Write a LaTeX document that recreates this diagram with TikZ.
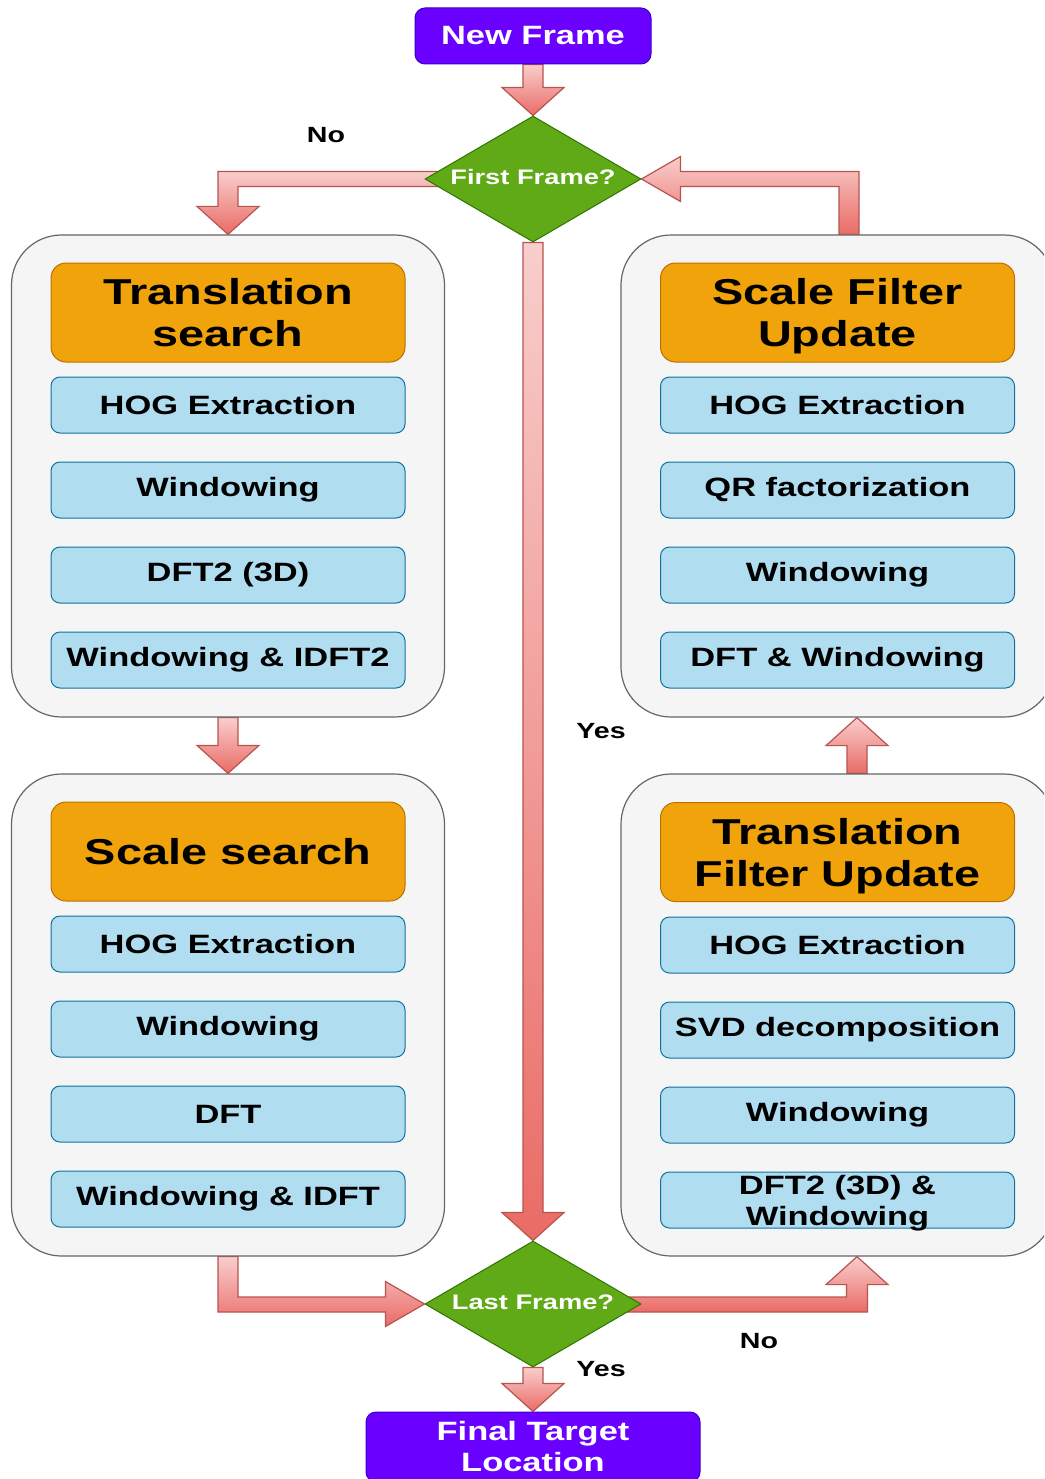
\documentclass[tikz,border=0pt]{standalone}
\usepackage{fontspec}
\setmainfont{Liberation Sans}[FakeStretch=1.3]
\usetikzlibrary{shapes.geometric,calc}
\pgfdeclarelayer{background}
\pgfdeclarelayer{canvas}
\pgfsetlayers{canvas,background,main}

\definecolor{termfill}{HTML}{6A00FF}
\definecolor{termbd}{HTML}{3700CC}
\definecolor{decfill}{HTML}{60A917}
\definecolor{decbd}{HTML}{2D7600}
\definecolor{headfill}{HTML}{F0A30A}
\definecolor{headbd}{HTML}{BD7000}
\definecolor{stepfill}{HTML}{B1DDF0}
\definecolor{stepbd}{HTML}{10739E}
\definecolor{groupfill}{HTML}{F5F5F5}
\definecolor{groupbd}{HTML}{666666}
\definecolor{arrtop}{HTML}{F8CECC}
\definecolor{arrbot}{HTML}{EA6B66}
\definecolor{arrbd}{HTML}{B85450}

% straight block arrows: #1 start point, #2 tip
\newcommand\fatdown[2]{%
  \path[fatarrow] ($(#1)+(-10,0)$) -- ($(#2)+(-10,-28)$) -- ($(#2)+(-31,-28)$)
    -- (#2) -- ($(#2)+(31,-28)$) -- ($(#2)+(10,-28)$) -- ($(#1)+(10,0)$) -- cycle;}
\newcommand\fatup[2]{%
  \path[fatarrow] ($(#1)+(-10,0)$) -- ($(#2)+(-10,28)$) -- ($(#2)+(-31,28)$)
    -- (#2) -- ($(#2)+(31,28)$) -- ($(#2)+(10,28)$) -- ($(#1)+(10,0)$) -- cycle;}

\begin{document}
\begin{tikzpicture}[x=1pt,y=-1pt,
  group/.style={draw=groupbd, fill=groupfill, line width=1.2pt, rounded corners=50pt,
    minimum width=433pt, minimum height=482pt, inner sep=0pt},
  header/.style={draw=headbd, fill=headfill, line width=1pt, rounded corners=15pt,
    minimum width=354pt, minimum height=99pt, inner sep=0pt, align=center,
    font=\bfseries\fontsize{36}{42}\selectfont},
  stepbox/.style={draw=stepbd, fill=stepfill, line width=1pt, rounded corners=9pt,
    minimum width=354pt, minimum height=56pt, inner sep=0pt, align=center,
    font=\bfseries\fontsize{26.5}{31}\selectfont},
  terminal/.style={draw=termbd, fill=termfill, line width=1pt, rounded corners=10pt,
    text=white, inner sep=0pt, align=center,
    font=\bfseries\fontsize{26.5}{31}\selectfont},
  decision/.style={diamond, draw=decbd, fill=decfill, line width=1pt,
    minimum width=216pt, minimum height=126pt, inner sep=0pt},
  dectext/.style={text=white, inner sep=0pt, font=\bfseries\fontsize{21}{24}\selectfont},
  lbl/.style={font=\bfseries\fontsize{22}{24}\selectfont},
  fatarrow/.style={draw=arrbd, line width=1.2pt, top color=arrtop, bottom color=arrbot,
    line join=miter}]

\clip (0,0) rectangle (1044,1479);
\begin{pgfonlayer}{canvas}
  \fill[white] (0,0) rectangle (1044,1479);
\end{pgfonlayer}

% start and end terminals
\node[terminal, minimum width=236pt, minimum height=56pt] (nf) at (533,36) {New Frame};
\node[terminal, minimum width=334pt, minimum height=70pt] (ft) at (533,1447) {Final Target\\Location};

% decisions
\node[decision] (ff) at (533,179) {};
\node[dectext] (fft) at ($(ff)+(0,-2)$) {First Frame?};
\node[decision] (lf) at (533,1304) {};
\node[dectext] (lft) at ($(lf)+(0,-2)$) {Last Frame?};

% processing groups
\node[group] (c1) at (228,476) {};
\node[group] (c2) at (228,1015) {};
\node[group] (c3) at (837.5,476) {};
\node[group] (c4) at (837.5,1015) {};

% translation search
\node[header] (h1) at (228,312.5) {Translation\\search};
\node[stepbox] (a1) at (228,405) {HOG Extraction};
\node[stepbox] (a2) at (228,490) {Windowing};
\node[stepbox] (a3) at (228,575) {DFT2 (3D)};
\node[stepbox] (a4) at (228,660) {Windowing \& IDFT2};

% scale search
\node[header] (h2) at (228,851.5) {Scale search};
\node[stepbox] (b1) at (228,944) {HOG Extraction};
\node[stepbox] (b2) at (228,1029) {Windowing};
\node[stepbox] (b3) at (228,1114) {DFT};
\node[stepbox] (b4) at (228,1199) {Windowing \& IDFT};

% scale filter update
\node[header] (h3) at (837.5,312.5) {Scale Filter\\\smash{Update}};
\node[stepbox] (d1) at (837.5,405) {HOG Extraction};
\node[stepbox] (d2) at (837.5,490) {QR factorization};
\node[stepbox] (d3) at (837.5,575) {Windowing};
\node[stepbox] (d4) at (837.5,660) {DFT \& Windowing};

% translation filter update
\node[header] (h4) at (837.5,852) {Translation\\\smash{Filter Update}};
\node[stepbox] (e1) at (837.5,945) {HOG Extraction};
\node[stepbox] (e2) at (837.5,1030) {SVD decomposition};
\node[stepbox] (e3) at (837.5,1115) {Windowing};
\node[stepbox] (e4) at (837.5,1200) {DFT2 (3D) \&\\\smash{Windowing}};

% branch labels
\node[lbl] (no1) at (326,135) {No};
\node[lbl] (yes1) at (601,731) {Yes};
\node[lbl] (no2) at (759,1341) {No};
\node[lbl] (yes2) at (601,1369) {Yes};

% attachment points off the group centres
\coordinate (c3top) at ($(c3.north)+(11.5,0)$);
\coordinate (c3bot) at ($(c3.south)+(19.5,0)$);
\coordinate (c4top) at ($(c4.north)+(19.5,0)$);
\coordinate (c4bot) at ($(c4.south)+(19.5,0)$);
\coordinate (k1) at (c1.north |- ff.west);
\coordinate (k2) at (c3top |- ff.east);
\coordinate (k3) at (c2.south |- lf.west);
\coordinate (k4) at (c4bot |- lf.east);

\begin{pgfonlayer}{background}
  \fatdown{nf.south}{ff.north}
  \fatdown{ff.south}{lf.north}
  \fatdown{c1.south}{c2.north}
  \fatup{c4top}{c3bot}
  \fatdown{lf.south}{ft.north}
  % first frame: no -> translation search
  \path[fatarrow] ($(ff.west)+(20,-7.5)$) -- ($(k1)+(-10,-7.5)$) -- ($(c1.north)+(-10,-28)$)
    -- ($(c1.north)+(-31,-28)$) -- (c1.north) -- ($(c1.north)+(31,-28)$)
    -- ($(c1.north)+(10,-28)$) -- ($(k1)+(10,7.5)$) -- ($(ff.west)+(20,7.5)$) -- cycle;
  % scale filter update -> first frame
  \path[fatarrow] ($(c3top)+(10,0)$) -- ($(k2)+(10,-7.5)$) -- ($(ff.east)+(39,-7.5)$)
    -- ($(ff.east)+(39,-22.5)$) -- (ff.east) -- ($(ff.east)+(39,22.5)$)
    -- ($(ff.east)+(39,7.5)$) -- ($(k2)+(-10,7.5)$) -- ($(c3top)+(-10,0)$) -- cycle;
  % scale search -> last frame
  \path[fatarrow] ($(c2.south)+(-10,0)$) -- ($(k3)+(-10,8)$) -- ($(lf.west)+(-39,8)$)
    -- ($(lf.west)+(-39,22.5)$) -- (lf.west) -- ($(lf.west)+(-39,-22.5)$)
    -- ($(lf.west)+(-39,-7)$) -- ($(k3)+(10,-7)$) -- ($(c2.south)+(10,0)$) -- cycle;
  % last frame: no -> translation filter update
  \path[fatarrow] ($(lf.east)+(-20,8)$) -- ($(k4)+(10.5,8)$) -- ($(c4bot)+(10.5,28)$)
    -- ($(c4bot)+(31,28)$) -- (c4bot) -- ($(c4bot)+(-31,28)$)
    -- ($(c4bot)+(-10.5,28)$) -- ($(k4)+(-10.5,-7)$) -- ($(lf.east)+(-20,-7)$) -- cycle;
\end{pgfonlayer}
\end{tikzpicture}
\end{document}
